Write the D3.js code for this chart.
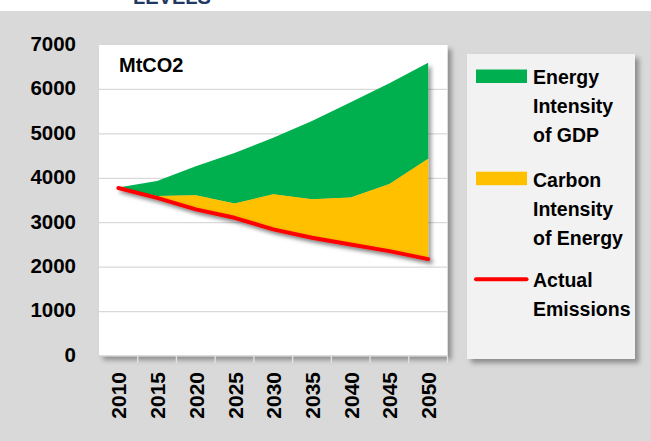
<!DOCTYPE html>
<html>
<head>
<meta charset="utf-8">
<script src="https://cdn.jsdelivr.net/npm/d3@7"></script>
<style>
  html, body { margin: 0; padding: 0; background: #ffffff; }
  svg { display: block; }
  text { font-family: "Liberation Sans", Arial, sans-serif; font-weight: bold; }
</style>
</head>
<body>
<svg id="chart" width="651" height="441"></svg>
<script>
// ---- data ----
const years = ["2010", "2015", "2020", "2025", "2030", "2035", "2040", "2045", "2050"];
const actualEmissions = [3780, 3560, 3300, 3110, 2850, 2660, 2510, 2360, 2180];
const carbonIntensityEffect = [0, 40, 320, 320, 790, 870, 1060, 1510, 2260];
const energyIntensityEffect = [10, 340, 650, 1140, 1270, 1760, 2140, 2270, 2160];
const yTicks = [0, 1000, 2000, 3000, 4000, 5000, 6000, 7000];
const unitLabel = "MtCO2";
const titleText = "LEVELS";
const legendGreen = ["Energy", "Intensity", "of GDP"];
const legendYellow = ["Carbon", "Intensity", "of Energy"];
const legendRed = ["Actual", "Emissions"];

const COLORS = { green: "#00b050", yellow: "#ffc000", red: "#ff0000" };

const svg = d3.select("#chart");
const W = 651, H = 441;

// filters
const defs = svg.append("defs");
defs.append("filter").attr("id", "boxShadow")
  .attr("x", "-10%").attr("y", "-10%").attr("width", "130%").attr("height", "130%")
  .append("feDropShadow").attr("dx", 4).attr("dy", 4).attr("stdDeviation", 2.5)
  .attr("flood-color", "#000").attr("flood-opacity", 0.35);
defs.append("filter").attr("id", "seriesShadow")
  .attr("x", "-10%").attr("y", "-10%").attr("width", "130%").attr("height", "130%")
  .append("feDropShadow").attr("dx", 3).attr("dy", 3).attr("stdDeviation", 2)
  .attr("flood-color", "#000").attr("flood-opacity", 0.4);

// backgrounds
svg.append("rect").attr("x", 0).attr("y", 0).attr("width", W).attr("height", H).attr("fill", "#ffffff");
svg.append("rect").attr("x", 0).attr("y", 11).attr("width", W).attr("height", H - 11).attr("fill", "#d9d9d9");

// cut-off title
svg.append("text").attr("x", 133).attr("y", 3.5)
  .attr("font-size", 20).attr("fill", "#1f3864").text(titleText);

// plot area
const plot = { left: 99, right: 447.5, top: 45, bottom: 356 };
const x = d3.scaleBand().domain(years).range([plot.left, plot.right]).paddingInner(0).paddingOuter(0);
const y = d3.scaleLinear().domain([0, 7000]).range([plot.bottom, plot.top]);
const xc = d => x(d) + x.bandwidth() / 2;

svg.append("rect").attr("x", plot.left).attr("y", plot.top)
  .attr("width", plot.right - plot.left).attr("height", plot.bottom - plot.top)
  .attr("fill", "#ffffff").attr("filter", "url(#boxShadow)");

// gridlines
svg.append("g").selectAll("line").data(yTicks.filter(t => t > 0 && t < 7000)).join("line")
  .attr("x1", plot.left).attr("x2", plot.right)
  .attr("y1", d => y(d)).attr("y2", d => y(d))
  .attr("stroke", "#d9d9d9").attr("stroke-width", 1.3);

// stacked data
const rows = years.map((yr, i) => ({
  year: yr,
  actual: actualEmissions[i],
  carbon: carbonIntensityEffect[i],
  energy: energyIntensityEffect[i]
}));
const stack = d3.stack().keys(["actual", "carbon", "energy"]);
const layers = stack(rows);

const area = d3.area()
  .x(d => xc(d.data.year))
  .y0(d => y(d[0]))
  .y1(d => y(d[1]));

const seriesG = svg.append("g").attr("filter", "url(#seriesShadow)");
seriesG.append("path").datum(layers[2]).attr("d", area).attr("fill", COLORS.green);
seriesG.append("path").datum(layers[1]).attr("d", area).attr("fill", COLORS.yellow);

const line = d3.line().x((d, i) => xc(years[i])).y(d => y(d));
svg.append("path").datum(actualEmissions).attr("d", line)
  .attr("fill", "none").attr("stroke", COLORS.red).attr("stroke-width", 4)
  .attr("stroke-linecap", "round").attr("stroke-linejoin", "round")
  .attr("filter", "url(#seriesShadow)");

// x axis line and ticks
svg.append("line").attr("x1", plot.left).attr("x2", plot.right)
  .attr("y1", plot.bottom).attr("y2", plot.bottom)
  .attr("stroke", "#d0d0d0").attr("stroke-width", 1.3);
const boundaries = years.slice(1).map(d => x(d)).concat([plot.right]);
svg.append("g").selectAll("line").data(boundaries).join("line")
  .attr("x1", d => d).attr("x2", d => d)
  .attr("y1", plot.bottom).attr("y2", plot.bottom + 7)
  .attr("stroke", "#e4e4e4").attr("stroke-width", 1.3);

// x labels
svg.append("g").selectAll("text").data(years).join("text")
  .attr("transform", d => `translate(${xc(d) + 8},372) rotate(-90)`)
  .attr("text-anchor", "end").attr("font-size", 21).attr("fill", "#000")
  .text(d => d);

// y labels
svg.append("g").selectAll("text").data(yTicks).join("text")
  .attr("x", 76).attr("y", d => y(d) + 5.8)
  .attr("text-anchor", "end").attr("font-size", 20.5).attr("fill", "#000")
  .text(d => d);

// unit label
svg.append("text").attr("x", 119).attr("y", 71.5)
  .attr("font-size", 20).attr("fill", "#000").text(unitLabel);

// legend
svg.append("rect").attr("x", 467).attr("y", 54).attr("width", 168).attr("height", 305)
  .attr("fill", "#f2f2f2").attr("filter", "url(#boxShadow)");
const lg = svg.append("g");
lg.append("rect").attr("x", 476).attr("y", 69.5).attr("width", 51).attr("height", 13.5).attr("fill", COLORS.green);
lg.append("rect").attr("x", 476).attr("y", 171.7).attr("width", 51).attr("height", 13.5).attr("fill", COLORS.yellow);
lg.append("line").attr("x1", 476).attr("x2", 526.5).attr("y1", 279.3).attr("y2", 279.3)
  .attr("stroke", COLORS.red).attr("stroke-width", 4).attr("stroke-linecap", "round");

const legendBlocks = [
  { lines: legendGreen, y0: 84 },
  { lines: legendYellow, y0: 186.5 },
  { lines: legendRed, y0: 287 }
];
legendBlocks.forEach(b => {
  lg.append("g").selectAll("text").data(b.lines).join("text")
    .attr("x", 533).attr("y", (d, i) => b.y0 + i * 29.2)
    .attr("font-size", 19.5).attr("fill", "#000").text(d => d);
});
</script>
</body>
</html>
